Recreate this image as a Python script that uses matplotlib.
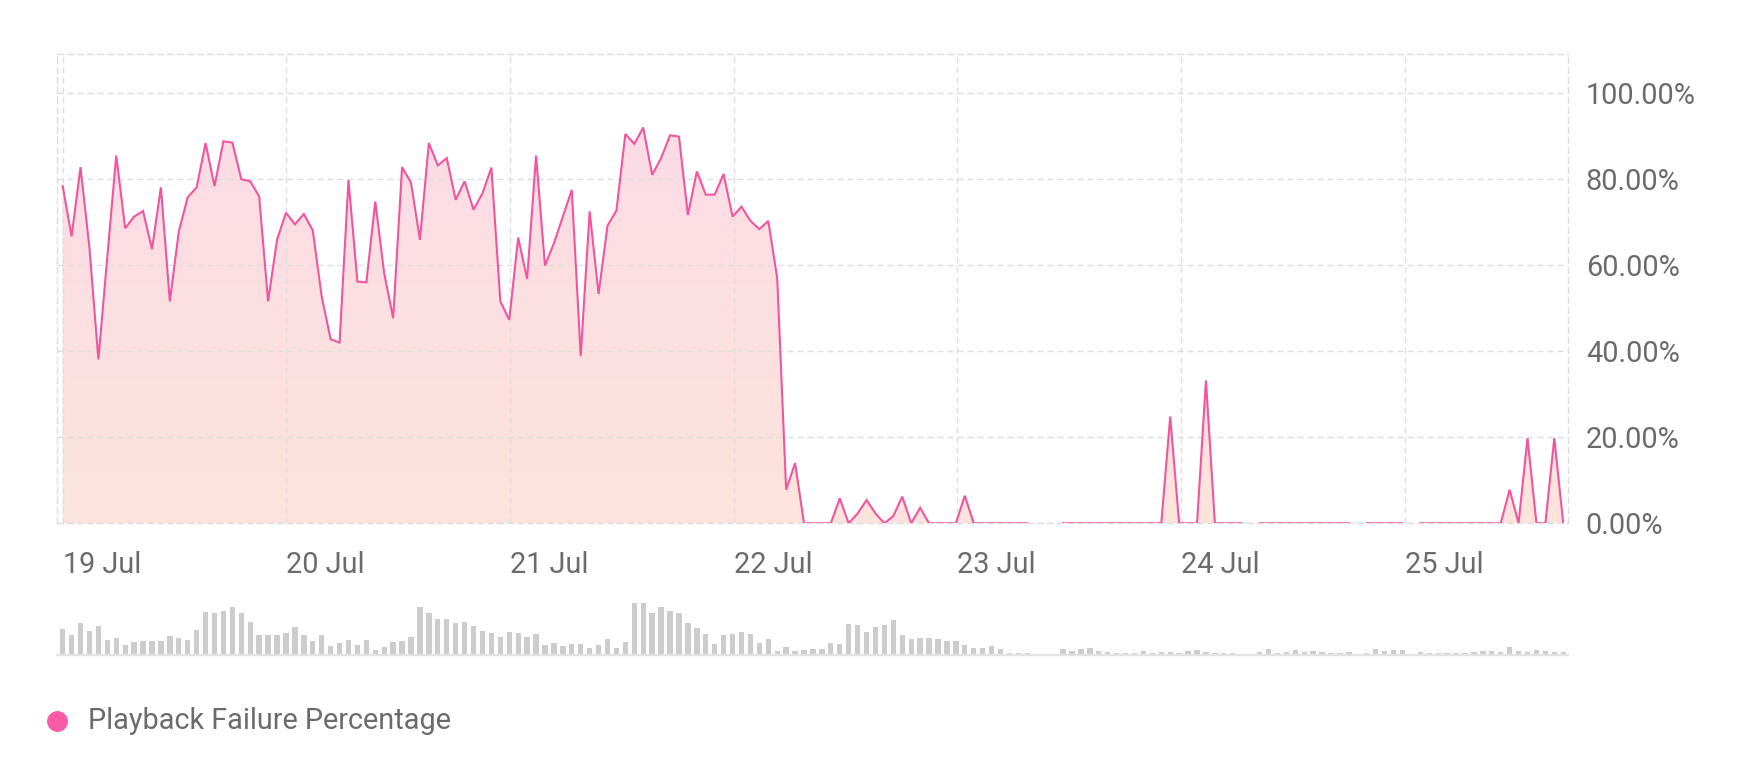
"""Playback failure percentage over a week, with request volume strip."""

import matplotlib
matplotlib.use("Agg")
import matplotlib.pyplot as plt
import numpy as np
from matplotlib.colors import LinearSegmentedColormap
from matplotlib.lines import Line2D
from matplotlib.path import Path

nan = np.nan

# hourly-ish samples, index 0 = start of 19 Jul
failure_pct = [
    78.4, 66.7, 82.8, 64.0, 38.1, 62.0, 85.5, 68.6, 71.3, 72.6,
    63.7, 78.1, 51.6, 67.8, 75.8, 78.1, 88.4, 78.4, 88.8, 88.5,
    80.0, 79.5, 76.0, 51.6, 65.9, 72.2, 69.5, 71.9, 68.1, 52.7,
    42.8, 42.0, 79.8, 56.2, 56.0, 74.8, 58.1, 47.7, 82.8, 79.2,
    65.9, 88.4, 83.2, 84.9, 75.2, 79.5, 72.9, 76.7, 82.7, 51.6,
    47.3, 66.4, 56.8, 85.5, 59.9, 65.1, 71.3, 77.5, 38.9, 72.5,
    53.3, 69.2, 72.7, 90.5, 88.2, 92.0, 81.0, 84.9, 90.2, 89.9,
    71.7, 81.8, 76.4, 76.4, 81.2, 71.3, 73.6, 70.3, 68.4, 70.3,
    57.0, 7.8, 14.0, 0, 0, 0, 0, 5.8, 0, 2.3,
    5.4, 2.3, 0, 1.7, 6.2, 0, 3.6, 0, 0, 0,
    0, 6.4, 0, 0, 0, 0, 0, 0, 0, nan,
    nan, nan, 0, 0, 0, 0, 0, 0, 0, 0,
    0, 0, 0, 0, 24.8, 0, 0, 0, 33.2, 0,
    0, 0, 0, nan, 0, 0, 0, 0, 0, 0,
    0, 0, 0, 0, 0, nan, 0, 0, 0, 0,
    0, nan, 0, 0, 0, 0, 0, 0, 0, 0,
    0, 0, 7.8, 0, 19.8, 0, 0, 19.8, 0,
]

request_volume = [
    77, 61, 97, 72, 86, 46, 52, 31, 40, 41,
    41, 43, 58, 52, 46, 75, 129, 126, 131, 144,
    127, 99, 61, 61, 59, 66, 85, 59, 41, 59,
    27, 36, 46, 31, 46, 16, 23, 39, 43, 54,
    144, 127, 109, 109, 97, 99, 88, 72, 65, 54,
    70, 67, 55, 64, 29, 37, 27, 34, 34, 21,
    29, 48, 21, 39, 156, 157, 125, 144, 131, 127,
    97, 80, 63, 32, 59, 64, 70, 63, 35, 49,
    13, 24, 13, 16, 19, 19, 36, 32, 93, 91,
    68, 85, 91, 106, 61, 48, 50, 50, 48, 41,
    41, 31, 21, 21, 27, 17, 5, 5, 7, nan,
    nan, nan, 19, 13, 19, 21, 13, 10, 7, 7,
    5, 11, 5, 10, 8, 7, 11, 14, 8, 7,
    6, 7, 4, nan, 10, 18, 6, 8, 14, 8,
    12, 9, 7, 7, 9, nan, 7, 18, 12, 16,
    16, nan, 8, 7, 6, 7, 6, 7, 8, 13,
    13, 8, 25, 11, 10, 16, 11, 10, 10,
]

day_labels = ["19 Jul", "20 Jul", "21 Jul", "22 Jul", "23 Jul", "24 Jul", "25 Jul"]
y_ticks = [0, 20, 40, 60, 80, 100]

SAMPLES_PER_DAY = 25.04
LINE_COLOR = "#f1559f"
TEXT_COLOR = "#6b6b6b"
GRID_COLOR = "#dedede"


def set_style():
    plt.rcParams.update({
        "font.family": ["Roboto", "DejaVu Sans"],
        "font.size": 20.8,
        "lines.scale_dashes": False,
    })


def main():
    set_style()
    y = np.array(failure_pct, dtype=float)
    vol = np.array(request_volume, dtype=float)
    x = np.arange(len(y))
    xlim = (-0.6, len(y) - 1 + 0.5)

    fig = plt.figure(figsize=(17.6, 7.78), dpi=100)
    ax = fig.add_axes([57.3 / 1760, 1 - 523.3 / 778, 1510.4 / 1760, 469.3 / 778])

    # gradient fill under the line, clipped to the area polygon
    area = ax.fill_between(x, y, 0, facecolor="none", edgecolor="none")
    clip = Path.make_compound_path(*area.get_paths())
    cmap = LinearSegmentedColormap.from_list("fill", ["#fde4dc", "#fcdbe6"])
    grad = np.linspace(0, 1, 256).reshape(-1, 1)
    im = ax.imshow(grad, cmap=cmap, aspect="auto", origin="lower",
                   extent=(xlim[0], xlim[1], 0, 100), zorder=1)
    im.set_clip_path(clip, transform=ax.transData)

    ax.plot(x, y, color=LINE_COLOR, lw=1.5, zorder=3, solid_joinstyle="miter")

    ax.set_xlim(*xlim)
    ax.set_ylim(0, 109.1)

    day_ticks = np.arange(len(day_labels)) * SAMPLES_PER_DAY
    ax.set_xticks(day_ticks)
    ax.set_xticklabels(day_labels, ha="left")
    ax.set_yticks(y_ticks)
    ax.set_yticklabels([f"{v:.2f}%" for v in y_ticks])
    ax.yaxis.tick_right()
    ax.tick_params(axis="both", length=0, colors=TEXT_COLOR)
    ax.tick_params(axis="x", pad=20)
    ax.tick_params(axis="y", pad=13)

    ax.grid(True, color=GRID_COLOR, lw=1.0, dashes=(4.3, 2.9), zorder=0)
    for side in ("top", "bottom", "left", "right"):
        ax.spines[side].set_color(GRID_COLOR)
        ax.spines[side].set_linewidth(1.0)
        ax.spines[side].set_linestyle((0, (4.3, 2.9)))
    ax.set_facecolor("none")

    # volume strip
    bx = fig.add_axes([57.3 / 1760, 1 - 655 / 778, 1510.4 / 1760, 60 / 778])
    bx.bar(x, vol, width=0.6, color="#cccccc", lw=0)
    bx.axhline(0, color="#e3e3e3", lw=1.6, clip_on=False)
    bx.set_xlim(*xlim)
    bx.set_ylim(0, 180)
    bx.axis("off")

    # legend
    legend_y = 1 - 721 / 778
    fig.add_artist(Line2D([57.4 / 1760], [legend_y], marker="o", ms=14,
                          color="#fb5aa8", transform=fig.transFigure))
    fig.text(88 / 1760, legend_y, "Playback Failure Percentage",
             color=TEXT_COLOR, va="center", ha="left")

    fig.savefig("out.png", dpi=100)
    plt.close(fig)


if __name__ == "__main__":
    main()
